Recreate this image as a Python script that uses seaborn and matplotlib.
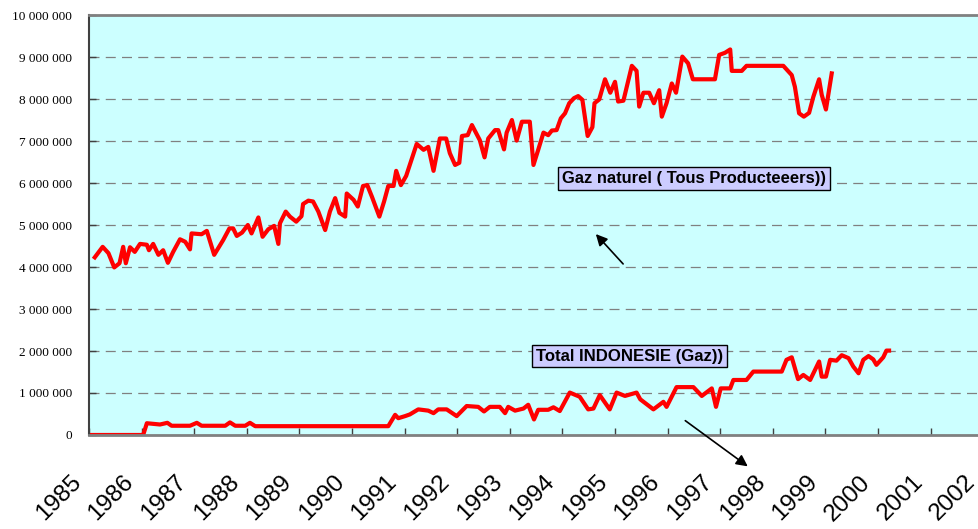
import pandas as pd
import seaborn as sns
import matplotlib.pyplot as plt
from matplotlib.transforms import ScaledTranslation

# Gaz naturel (tous producteurs)
gas_years = [1985.11, 1985.26, 1985.37, 1985.48, 1985.58, 1985.65, 1985.70, 1985.78, 1985.87, 1985.97,
             1986.10, 1986.14, 1986.22, 1986.32, 1986.41, 1986.50, 1986.60, 1986.73, 1986.83, 1986.92,
             1986.95, 1987.14, 1987.24, 1987.38, 1987.55, 1987.67, 1987.74, 1987.81, 1987.91, 1988.02,
             1988.09, 1988.22, 1988.30, 1988.41, 1988.52, 1988.60, 1988.63, 1988.74, 1988.82, 1988.94,
             1989.04, 1989.07, 1989.17, 1989.26, 1989.36, 1989.49, 1989.58, 1989.68, 1989.76, 1989.87,
             1989.90, 1990.03, 1990.11, 1990.21, 1990.29, 1990.38, 1990.52, 1990.61, 1990.69, 1990.79,
             1990.84, 1990.93, 1991.03, 1991.14, 1991.23, 1991.36, 1991.45, 1991.55, 1991.67, 1991.79,
             1991.86, 1991.96, 1992.04, 1992.09, 1992.20, 1992.28, 1992.38, 1992.43, 1992.52, 1992.59,
             1992.72, 1992.78, 1992.89, 1992.94, 1993.04, 1993.13, 1993.23, 1993.38, 1993.45, 1993.54,
             1993.64, 1993.73, 1993.80, 1993.89, 1993.97, 1994.05, 1994.13, 1994.22, 1994.30, 1994.38,
             1994.48, 1994.57, 1994.61, 1994.70, 1994.81, 1994.91, 1995.00, 1995.06, 1995.16, 1995.32,
             1995.41, 1995.46, 1995.54, 1995.65, 1995.74, 1995.84, 1995.89, 1995.98, 1996.08, 1996.16,
             1996.28, 1996.39, 1996.48, 1996.90, 1996.98, 1997.09, 1997.19, 1997.22, 1997.41, 1997.50,
             1998.20, 1998.36, 1998.42, 1998.50, 1998.59, 1998.69, 1998.77, 1998.88, 1998.93, 1999.01,
             1999.12]
gas_values = [4230000, 4480000, 4330000, 3990000, 4090000, 4480000, 4090000, 4470000, 4360000, 4550000,
              4530000, 4400000, 4550000, 4290000, 4400000, 4100000, 4360000, 4660000, 4600000, 4420000,
              4800000, 4780000, 4860000, 4290000, 4640000, 4920000, 4920000, 4740000, 4820000, 5000000,
              4800000, 5180000, 4720000, 4900000, 4980000, 4550000, 5040000, 5320000, 5200000, 5080000,
              5210000, 5500000, 5580000, 5560000, 5320000, 4880000, 5320000, 5640000, 5290000, 5200000,
              5750000, 5600000, 5440000, 5930000, 5950000, 5670000, 5200000, 5560000, 5930000, 5930000,
              6290000, 5950000, 6170000, 6590000, 6930000, 6790000, 6860000, 6290000, 7060000, 7060000,
              6710000, 6430000, 6480000, 7120000, 7140000, 7380000, 7140000, 7020000, 6610000, 7060000,
              7260000, 7260000, 6800000, 7200000, 7500000, 7010000, 7460000, 7460000, 6430000, 6790000,
              7200000, 7140000, 7250000, 7260000, 7540000, 7660000, 7900000, 8020000, 8070000, 7980000,
              7120000, 7330000, 7900000, 7990000, 8470000, 8150000, 8410000, 7940000, 7960000, 8790000,
              8670000, 7820000, 8150000, 8150000, 7900000, 8210000, 7580000, 7900000, 8370000, 8150000,
              9010000, 8850000, 8470000, 8470000, 9050000, 9100000, 9180000, 8670000, 8670000, 8790000,
              8790000, 8570000, 8290000, 7660000, 7580000, 7670000, 8050000, 8470000, 8100000, 7750000,
              8610000]

# Total Indonésie (gaz)
indo_years = [1985.02, 1986.03, 1986.10, 1986.35, 1986.49, 1986.57, 1986.92, 1987.05, 1987.14, 1987.59,
              1987.68, 1987.78, 1987.97, 1988.06, 1988.16, 1990.69, 1990.82, 1990.88, 1991.01, 1991.10,
              1991.26, 1991.45, 1991.55, 1991.64, 1991.80, 1991.99, 1992.18, 1992.40, 1992.51, 1992.62,
              1992.81, 1992.91, 1992.97, 1993.10, 1993.26, 1993.35, 1993.46, 1993.54, 1993.73, 1993.83,
              1993.95, 1994.14, 1994.33, 1994.49, 1994.59, 1994.71, 1994.90, 1995.03, 1995.19, 1995.41,
              1995.48, 1995.73, 1995.92, 1995.98, 1996.17, 1996.49, 1996.65, 1996.84, 1996.92, 1997.01,
              1997.19, 1997.25, 1997.50, 1997.63, 1998.17, 1998.26, 1998.36, 1998.48, 1998.58, 1998.71,
              1998.88, 1998.93, 1999.01, 1999.09, 1999.21, 1999.31, 1999.44, 1999.53, 1999.63, 1999.72,
              1999.82, 1999.91, 1999.97, 2000.10, 2000.16, 2000.21]
indo_values = [0, 0, 280000, 250000, 290000, 220000, 220000, 290000, 220000, 220000,
               300000, 220000, 220000, 290000, 210000, 210000, 480000, 400000, 450000, 490000,
               610000, 580000, 520000, 610000, 610000, 450000, 690000, 670000, 560000, 670000,
               670000, 520000, 670000, 580000, 630000, 720000, 370000, 600000, 600000, 660000,
               570000, 1010000, 910000, 610000, 630000, 950000, 610000, 1010000, 930000, 1010000,
               850000, 610000, 790000, 670000, 1140000, 1140000, 930000, 1110000, 670000, 1110000,
               1110000, 1310000, 1310000, 1510000, 1510000, 1790000, 1850000, 1330000, 1430000, 1310000,
               1750000, 1390000, 1390000, 1790000, 1770000, 1900000, 1830000, 1630000, 1470000, 1790000,
               1880000, 1800000, 1670000, 1850000, 2010000, 2010000]

year_ticks = list(range(1985, 2003))
y_ticks = [0, 1000000, 2000000, 3000000, 4000000, 5000000,
           6000000, 7000000, 8000000, 9000000, 10000000]
y_labels = ["0", "1 000 000", "2 000 000", "3 000 000", "4 000 000", "5 000 000",
            "6 000 000", "7 000 000", "8 000 000", "9 000 000", "10 000 000"]

gas = pd.DataFrame({"annee": gas_years, "valeur": gas_values})
indo = pd.DataFrame({"annee": indo_years, "valeur": indo_values})

fig = plt.figure(figsize=(9.79, 5.29), dpi=100)
ax = fig.add_axes([0.0909, 0.1777, 0.9134, 0.7939])
ax.set_facecolor("#CCFFFF")
ax.set_axisbelow(True)

sns.lineplot(data=gas, x="annee", y="valeur", color="#FF0000", linewidth=3, ax=ax)
sns.lineplot(data=indo, x="annee", y="valeur", color="#FF0000", linewidth=3, ax=ax)

ax.set_xlim(1985, 2002)
ax.set_ylim(0, 10000000)
ax.set_xlabel("")
ax.set_ylabel("")

ax.set_yticks(y_ticks)
ax.set_yticklabels(y_labels, family="Liberation Serif", fontsize=9.5)
ax.set_xticks(year_ticks)
ax.set_xticklabels([str(y) for y in year_ticks], rotation=45, ha="right",
                   rotation_mode="anchor", fontsize=17.5, family="Liberation Sans")
ax.tick_params(axis="y", direction="in", length=5, width=1, color="#404040", pad=12)
ax.tick_params(axis="x", direction="in", length=5, width=1, color="#404040", pad=26)

# décaler les étiquettes d'années vers la gauche comme dans l'original
shift = ScaledTranslation(-0.19, 0.0, fig.dpi_scale_trans)
for lab in ax.get_xticklabels():
    lab.set_transform(lab.get_transform() + shift)

ax.grid(axis="y", color="#808080", linewidth=0.9, linestyle=(0, (8, 5)))

for side in ["top", "bottom"]:
    ax.spines[side].set_color("#808080")
    ax.spines[side].set_linewidth(2)
ax.spines["left"].set_color("#404040")
ax.spines["left"].set_linewidth(1.5)
ax.spines["right"].set_visible(False)

box = dict(boxstyle="square,pad=0.22", facecolor="#CCCCFF", edgecolor="black", linewidth=1)
fig.text(0.7089, 0.6626, "Gaz naturel ( Tous Producteeers))", ha="center", va="center",
         fontsize=11.9, fontweight="bold", family="Liberation Sans", bbox=box)
fig.text(0.643, 0.327, "Total INDONESIE (Gaz))", ha="center", va="center",
         fontsize=12.1, fontweight="bold", family="Liberation Sans", bbox=box)

arrow = dict(arrowstyle="-|>", color="black", linewidth=1.2, mutation_scale=17)
ax.annotate("", xy=(0.6067, 0.5614), xytext=(0.6384, 0.4972),
            xycoords="figure fraction", textcoords="figure fraction", arrowprops=arrow)
ax.annotate("", xy=(0.7661, 0.1153), xytext=(0.6977, 0.2079),
            xycoords="figure fraction", textcoords="figure fraction",
            arrowprops=arrow, annotation_clip=False)

fig.savefig("out.png", dpi=100)
